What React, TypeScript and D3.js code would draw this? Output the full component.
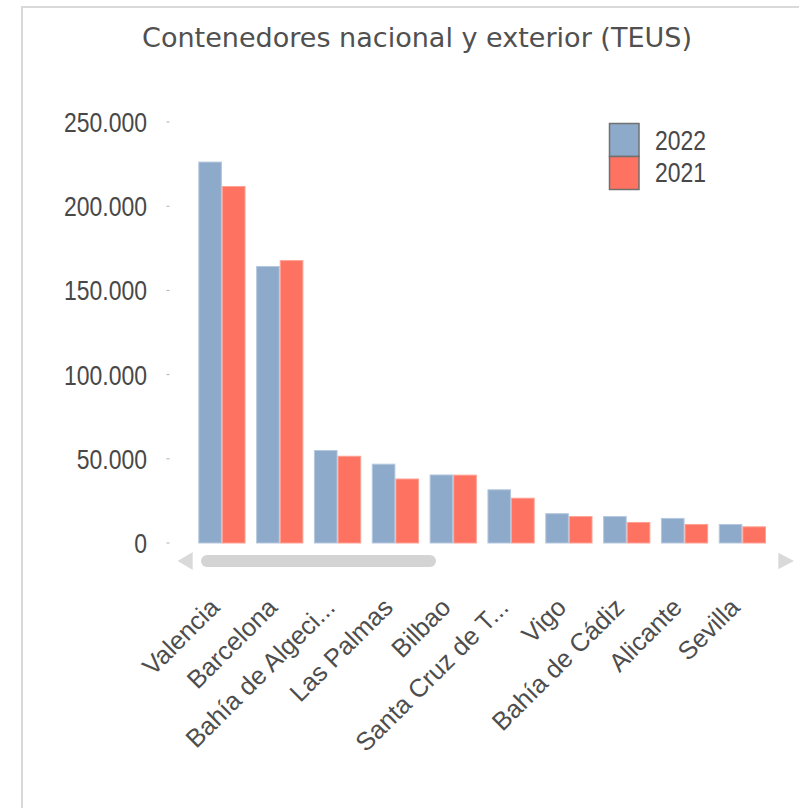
import React from "react";
import * as d3 from "d3";

const categories = [
  "Valencia",
  "Barcelona",
  "Bahía de Algeci...",
  "Las Palmas",
  "Bilbao",
  "Santa Cruz de T...",
  "Vigo",
  "Bahía de Cádiz",
  "Alicante",
  "Sevilla",
];
const series = ["2022", "2021"];
const values2022 = [226500, 164500, 55200, 47100, 40700, 31900, 17700, 16000, 14900, 11300];
const values2021 = [212000, 168000, 51800, 38300, 40600, 26900, 16000, 12500, 11300, 9900];
const yTicks = [0, 50000, 100000, 150000, 200000, 250000];
const title = "Contenedores nacional y exterior (TEUS)";

const W = 799;
const H = 808;
const colors: Record<string, string> = { "2022": "#8eaacb", "2021": "#fe7262" };
const strokes: Record<string, string> = { "2022": "#b5c8de", "2021": "#ffa294" };

const fmt = (v: number) => (v === 0 ? "0" : d3.format(",")(v).replace(/,/g, "."));

export default function App() {
  const x = d3
    .scaleBand<string>()
    .domain(categories)
    .range([193, 771.3])
    .paddingInner(0.183)
    .paddingOuter(0.0915);
  const xs = d3.scaleBand<string>().domain(series).range([0, x.bandwidth()]).padding(0);
  const y = d3.scaleLinear().domain([0, 250000]).range([543, 122]);
  const data: Record<string, number[]> = { "2022": values2022, "2021": values2021 };

  return (
    <svg
      width={W}
      height={H}
      style={{ position: "absolute", left: 0, top: 0, background: "#fff" }}
    >
      <rect x={0} y={0} width={W} height={H} fill="#fff" />
      <rect x={22} y={7} width={W + 20} height={H + 20} fill="#fff" stroke="#d9d9d9" strokeWidth={2} />
      <text
        x={417}
        y={47}
        textAnchor="middle"
        fontFamily="'DejaVu Sans Condensed', 'DejaVu Sans', sans-serif"
        fontSize={27}
        fill="#505050"
        textLength={550}
        lengthAdjust="spacingAndGlyphs"
      >
        {title}
      </text>

      {/* y axis */}
      {yTicks.map((t) => (
        <g key={t}>
          <line x1={166.5} x2={169.5} y1={y(t)} y2={y(t)} stroke="#b0b0b0" strokeWidth={1} />
          <text
            transform={`translate(147, ${y(t) + 10}) scale(0.82, 1)`}
            textAnchor="end"
            fontFamily="'Liberation Sans', Arial, sans-serif"
            fontSize={28}
            fill="#484848"
          >
            {fmt(t)}
          </text>
        </g>
      ))}

      {/* bars */}
      {categories.map((c, i) => (
        <g key={c} transform={`translate(${x(c)},0)`}>
          {series.map((s) => {
            const v = data[s][i];
            return (
              <rect
                key={s}
                x={xs(s)! + 0.5}
                y={y(v) + 0.5}
                width={xs.bandwidth() - 1}
                height={y(0) - y(v) - 0.5}
                fill={colors[s]}
                stroke={strokes[s]}
                strokeWidth={1}
              />
            );
          })}
        </g>
      ))}

      {/* scrollbar */}
      <polygon points="177.7,561 192.7,552 192.7,570" fill="#d9d9d9" />
      <rect x={201} y={555} width={235} height={12} rx={6} ry={6} fill="#d4d4d4" />
      <polygon points="778.3,552.7 778.3,569.3 794,561" fill="#d9d9d9" />

      {/* x labels */}
      {categories.map((c) => {
        const cx = x(c)! + x.bandwidth() / 2 - 1;
        return (
          <text
            key={c}
            transform={`translate(${cx}, 609) rotate(-45)`}
            textAnchor="end"
            fontFamily="'Liberation Sans', Arial, sans-serif"
            fontSize={25.5}
            fill="#4d4d4d"
          >
            {c}
          </text>
        );
      })}

      {/* legend */}
      {series.map((s, i) => (
        <g key={s}>
          <rect
            x={609.5}
            y={123.5 + i * 33}
            width={29.5}
            height={33}
            fill={colors[s]}
            stroke="#707070"
            strokeWidth={1.5}
          />
          <text
            transform={`translate(655, ${150 + i * 32}) scale(0.82, 1)`}
            fontFamily="'Liberation Sans', Arial, sans-serif"
            fontSize={28}
            fill="#484848"
          >
            {s}
          </text>
        </g>
      ))}
    </svg>
  );
}
